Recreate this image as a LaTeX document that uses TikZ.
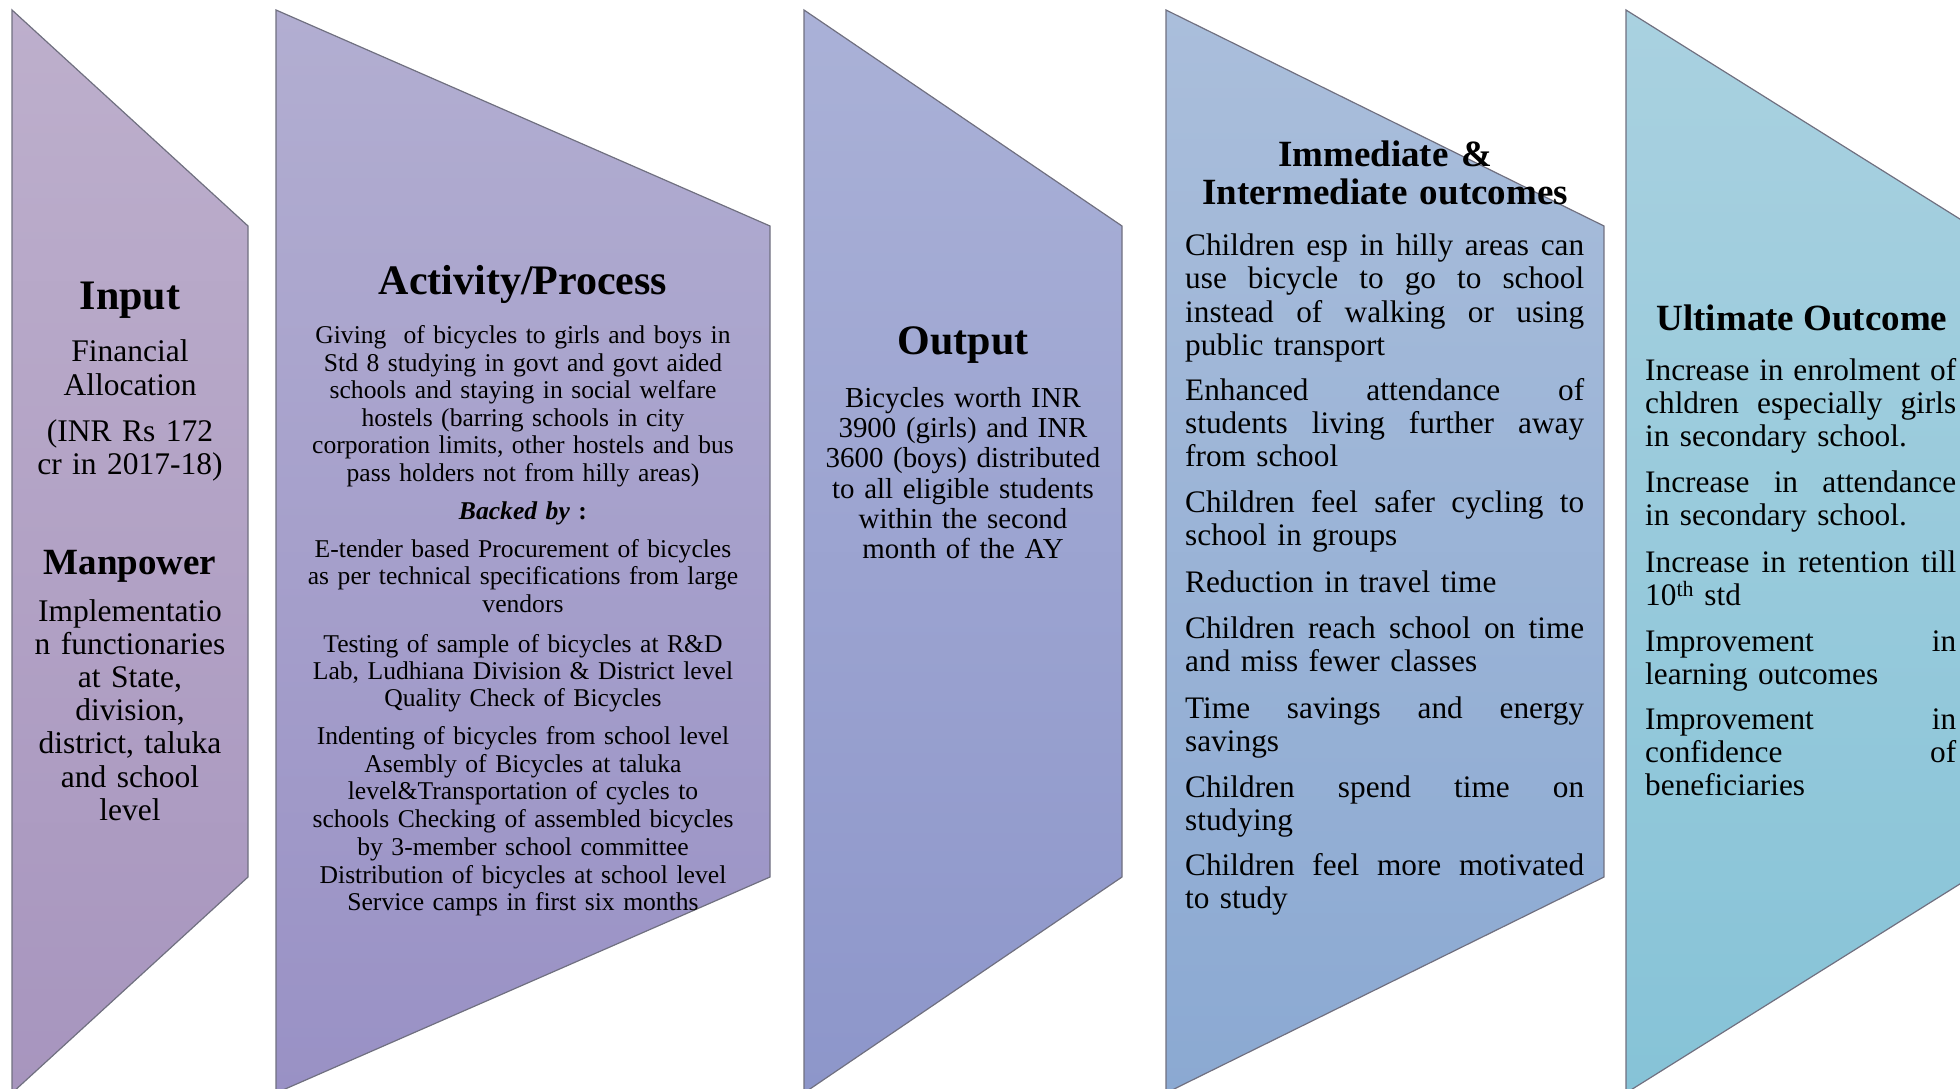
\documentclass[tikz,border=0pt]{standalone}
\usepackage{fontspec}
\setmainfont{Liberation Serif}

% stage fill colours (top / bottom of each vertical gradient)
\definecolor{inTop}{RGB}{189,175,204}
\definecolor{inBot}{RGB}{167,149,190}
\definecolor{acTop}{RGB}{178,174,209}
\definecolor{acBot}{RGB}{153,145,197}
\definecolor{ouTop}{RGB}{170,177,215}
\definecolor{ouBot}{RGB}{141,150,202}
\definecolor{imTop}{RGB}{170,190,219}
\definecolor{imBot}{RGB}{139,169,210}
\definecolor{ulTop}{RGB}{169,209,224}
\definecolor{ulBot}{RGB}{134,195,215}
\definecolor{edgegray}{RGB}{112,112,128}

\newcommand\fsz[2]{\fontsize{#1}{#2}\selectfont}
% a justified line stretched to the column width \jw
% (the font's own stretchable interword glue is restored first)
\newlength\jw
\newcommand\fullline[1]{\makebox[\jw][s]{\spaceskip=0pt\xspaceskip=0pt #1}}

\begin{document}
\begin{tikzpicture}[x=1pt,y=-1pt,
  stage/.style={draw=edgegray, line width=1.2pt},
  ttl/.style={inner sep=0pt, anchor=base, font=\bfseries\fsz{#1}{#1}},
  ctext/.style={inner sep=0pt, anchor=base, align=center},
  jtext/.style={inner sep=0pt, anchor=base west, align=left}]

\useasboundingbox (0,0) rectangle (1960,1089);

% the five stage shapes
\begin{scope}
  \clip (0,0) rectangle (1960,1089);
  \shadedraw[stage, top color=inTop, bottom color=inBot]
    (12,10) -- (248,226) -- (248,877) -- (12,1093) -- cycle;
  \shadedraw[stage, top color=acTop, bottom color=acBot]
    (276,10) -- (770,226) -- (770,877) -- (276,1093) -- cycle;
  \shadedraw[stage, top color=ouTop, bottom color=ouBot]
    (804,10) -- (1122,226) -- (1122,877) -- (804,1093) -- cycle;
  \shadedraw[stage, top color=imTop, bottom color=imBot]
    (1166,10) -- (1604,226) -- (1604,877) -- (1166,1093) -- cycle;
  \shadedraw[stage, top color=ulTop, bottom color=ulBot]
    (1626,10) -- (1971,226) -- (1971,877) -- (1626,1093) -- cycle;
\end{scope}

% Input
\node[ttl=42] (inTitle) at (130,309) {Input};
\node[ctext, text width=236pt, font=\fsz{31.5}{34.5}] (inFin) at (130,361)
  {Financial\\Allocation};
\node[ctext, text width=236pt, font=\fsz{31.5}{33}] (inAmt) at (130,441)
  {(INR Rs 172\\cr in 2017-18)};
\node[ttl=37] (mpTitle) at (130,574) {Manpower};
\node[ctext, text width=236pt, font=\fsz{31.5}{33.2}] (mpBody) at (130,621)
  {Implementatio\\n functionaries\\at State,\\division,\\district, taluka\\and school\\level};

% Activity / Process
\node[ttl=42] (acTitle) at (523,294) {Activity/Process};
\node[ctext, text width=480pt, font=\fsz{25.6}{27.5}] (acGive) at (523,343.8)
  {Giving\ \ of bicycles to girls and boys in\\Std 8 studying in govt and govt aided\\schools and staying in social welfare\\hostels (barring schools in city\\corporation limits, other hostels and bus\\pass holders not from hilly areas)};
\node[ctext, text width=480pt, font=\bfseries\fsz{25.6}{27.5}] (acBack) at (523,519.8)
  {\textit{Backed by} :};
\node[ctext, text width=480pt, font=\fsz{25.6}{27.5}] (acTender) at (523,557.2)
  {E-tender based Procurement of bicycles\\as per technical specifications from large\\vendors};
\node[ctext, text width=480pt, font=\fsz{25.6}{27}] (acTest) at (523,652)
  {Testing of sample of bicycles at R\&D\\Lab, Ludhiana Division \& District level\\Quality Check of Bicycles};
\node[ctext, text width=480pt, font=\fsz{25.6}{27.7}] (acIndent) at (523,744.5)
  {Indenting of bicycles from school level\\Asembly of Bicycles at taluka\\level\&Transportation of cycles to\\schools Checking of assembled bicycles\\by 3-member school committee\\Distribution of bicycles at school level\\Service camps in first six months};

% Output
\node[ttl=42] (ouTitle) at (963,354) {Output};
\node[ctext, text width=300pt, font=\fsz{28.9}{30.3}] (ouBody) at (963,407.2)
  {Bicycles worth INR\\3900 (girls) and INR\\3600 (boys) distributed\\to all eligible students\\within the second\\month of the AY};

% Immediate & intermediate outcomes
\node[ctext, text width=430pt, font=\bfseries\fsz{37}{38}] (imTitle) at (1385,166.7)
  {Immediate \&\\Intermediate outcomes};
\begin{scope}[every node/.style={jtext, text width=399pt, font=\fsz{31.3}{33.4}}]
  \setlength{\jw}{399pt}
  \node (imA) at (1185,255.5) {\fullline{Children esp in hilly areas can}\\\fullline{use bicycle to go to school}\\\fullline{instead of walking or using}\\public transport};
  \node (imB) at (1185,400) {\fullline{Enhanced attendance of}\\\fullline{students living further away}\\from school};
  \node (imC) at (1185,512.5) {\fullline{Children feel safer cycling to}\\school in groups};
  \node (imD) at (1185,592.5) {Reduction in travel time};
  \node (imE) at (1185,638.5) {\fullline{Children reach school on time}\\and miss fewer classes};
  \node (imF) at (1185,718.2) {\fullline{Time savings and energy}\\savings};
  \node (imG) at (1185,797.5) {\fullline{Children spend time on}\\studying};
  \node (imH) at (1185,875.5) {\fullline{Children feel more motivated}\\to study};
\end{scope}

% Ultimate outcome
\node[ttl=37] (ulTitle) at (1802,330) {Ultimate Outcome};
\begin{scope}[every node/.style={jtext, text width=312pt, font=\fsz{31.3}{33}}]
  \setlength{\jw}{311pt}
  \node (ulA) at (1645,380.5) {\fullline{Increase in enrolment of}\\\fullline{chldren especially girls}\\in secondary school.};
  \node (ulB) at (1645,492) {\fullline{Increase in attendance}\\in secondary school.};
  \node (ulC) at (1645,572.5) {\fullline{Increase in retention till}\\10\textsuperscript{th} std};
  \node (ulD) at (1645,651) {\fullline{Improvement in}\\learning outcomes};
  \node (ulE) at (1645,729.8) {\fullline{Improvement in}\\\fullline{confidence of}\\beneficiaries};
\end{scope}

\end{tikzpicture}
\end{document}
